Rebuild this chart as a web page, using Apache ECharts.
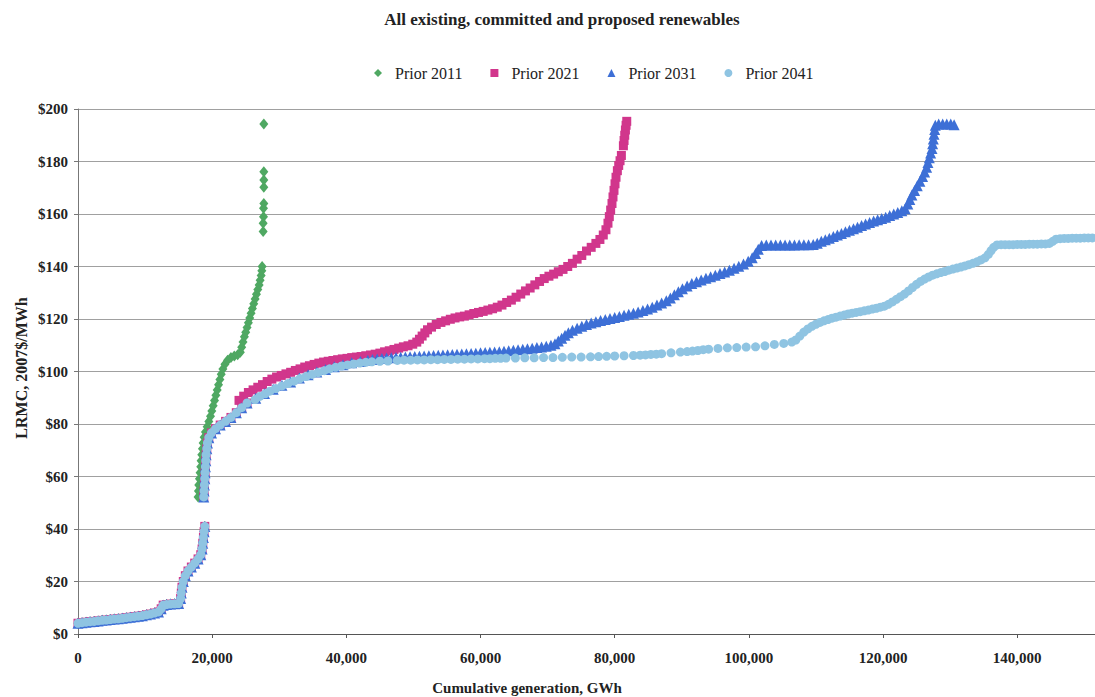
<!DOCTYPE html>
<html>
<head>
<meta charset="utf-8">
<script src="https://cdn.jsdelivr.net/npm/echarts@6/dist/echarts.min.js"></script>
<style>
  html, body { margin: 0; padding: 0; background: #ffffff; }
  #chart { width: 1095px; height: 697px; }
</style>
</head>
<body>
<div id="chart"></div>
<script>
// Supply curves of renewable projects: [cumulative generation (GWh), LRMC (2007$/MWh)]
const seriesNames = ['Prior 2011', 'Prior 2021', 'Prior 2031', 'Prior 2041'];
const chartTitle = 'All existing, committed and proposed renewables';
const xAxisTitle = 'Cumulative generation, GWh';
const yAxisTitle = 'LRMC, 2007$/MWh';

// Cheapest projects, common to every vintage
const lowCurve = [
  [0,4.1],[600,4.3],[1200,4.5],[1800,4.7],[2400,4.8],[3000,5.0],[3600,5.2],[4200,5.3],[4800,5.5],
  [5400,5.7],[6000,5.8],[6600,6.0],[7200,6.2],[7800,6.4],[8400,6.6],[9000,6.8],[9600,7.0],[10200,7.3],
  [10800,7.6],[11400,8.0],[12000,8.4],[12400,9.6],[12700,11.0],[13200,11.2],[13800,11.4],[14400,11.5],
  [15000,11.6],[15300,13.5],[15400,15.6],[15500,17.8],[15700,20.0],[16000,22.2],[16400,24.0],[16900,25.5],
  [17400,27.0],[17900,28.6],[18300,30.2],[18500,32.4],[18600,34.6],[18700,36.8],[18800,39.0],[18900,41.0]
];

// Step from $52 to $88, shared by the 2021, 2031 and 2041 curves
const midCurve = [
  [18750,52.2],[18800,54.5],[18850,56.8],[18900,59.1],[18950,61.4],[19000,63.7],[19050,66.0],[19100,68.3],
  [19200,70.6],[19300,72.8],[19500,74.8],[19900,76.6],[20500,78.2],[21200,79.6],[22000,81.0],[22800,82.5],
  [23600,84.3],[24400,86.2],[25200,88.0]
];

const prior2011Upper = [
  [17900,52.2],[17950,54.5],[18000,56.8],[18100,59.1],[18200,61.4],[18300,63.7],[18350,66.0],[18450,68.3],
  [18550,70.6],[18650,72.8],[18800,75.0],[19000,77.0],[19250,79.0],[19500,81.0],[19750,83.0],[19950,85.0],
  [20150,87.0],[20350,89.0],[20550,91.0],[20750,93.0],[20950,95.0],[21150,97.0],[21350,99.0],[21600,101.0],
  [21900,102.8],[22300,104.3],[22800,105.3],[23300,105.9],[23800,106.4],[24200,107.3],[24400,109.2],
  [24600,111.2],[24800,113.2],[25000,115.0],[25200,116.8],[25400,118.6],[25600,120.4],[25800,122.2],
  [26000,124.0],[26200,125.8],[26400,127.6],[26600,129.4],[26800,131.2],[27000,133.0],[27150,134.8],
  [27300,136.6],[27400,138.4],[27450,140.0],[27600,153.3],[27600,156.5],[27650,159.0],[27650,162.2],
  [27700,164.0],[27700,170.2],[27700,173.0],[27700,176.1],[27700,194.3]
];

const prior2021Upper = [
  [24000,89.0],[24700,90.6],[25400,92.0],[26100,93.0],[26800,94.0],[27500,95.0],[28200,96.2],[28900,97.1],
  [29600,97.9],[30300,98.5],[31000,99.1],[31700,99.7],[32400,100.4],[33100,101.0],[33800,101.7],[34500,102.2],
  [35200,102.7],[35900,103.2],[36600,103.6],[37300,103.9],[38000,104.2],[38700,104.5],[39400,104.8],
  [40100,105.0],[40800,105.3],[41500,105.5],[42200,105.7],[42900,106.0],[43600,106.3],[44300,106.6],
  [45000,107.0],[45700,107.5],[46400,107.9],[47100,108.4],[47800,108.9],[48500,109.4],[49200,109.8],
  [49900,110.4],[50500,111.2],[50900,112.3],[51300,113.5],[51700,114.7],[52100,115.9],[52700,116.9],
  [53400,117.9],[54100,118.7],[54800,119.3],[55500,119.9],[56200,120.4],[56900,120.8],[57600,121.1],
  [58300,121.6],[59000,122.1],[59700,122.5],[60400,122.9],[61100,123.4],[61800,123.9],[62500,124.5],
  [63200,125.3],[63900,126.3],[64600,127.2],[65300,128.3],[66000,129.5],[66700,130.7],[67400,131.8],
  [68100,133.0],[68800,134.3],[69500,135.4],[70200,136.3],[70900,137.1],[71600,138.0],[72300,138.9],
  [73000,140.0],[73700,141.2],[74400,142.8],[75100,144.2],[75800,145.9],[76500,147.3],[77200,148.8],
  [77800,150.3],[78300,152.0],[78700,154.0],[79000,156.5],[79200,159.0],[79400,161.5],[79600,164.0],
  [79750,166.5],[79900,169.0],[80050,171.5],[80200,174.0],[80400,176.5],[80600,178.5],[80800,180.3],
  [81000,182.3],[81300,186.0],[81400,188.0],[81500,190.0],[81600,192.0],[81700,193.8],[81800,195.3]
];

const prior2031Upper = [
  [26500,89.8],[27800,91.6],[29100,93.2],[30400,94.8],[31700,96.0],[33000,97.5],[34300,98.8],[35600,99.8],
  [36900,100.8],[38200,101.8],[39500,102.6],[40800,103.3],[42100,103.8],[43200,104.3],[43900,104.6],
  [44600,104.8],[45300,105.0],[46000,105.1],[46700,105.2],[47400,105.3],[48100,105.4],[48800,105.5],
  [49500,105.6],[50200,105.7],[50900,105.8],[51600,105.9],[52300,106.0],[53000,106.1],[53700,106.2],
  [54400,106.3],[55100,106.4],[55800,106.5],[56500,106.6],[57200,106.7],[57900,106.8],[58600,106.9],
  [59300,107.0],[60000,107.1],[60700,107.2],[61400,107.3],[62100,107.4],[62800,107.5],[63500,107.7],
  [64200,107.9],[64900,108.1],[65600,108.3],[66300,108.5],[67000,108.7],[67700,108.9],[68400,109.1],
  [69100,109.3],[69800,109.6],[70500,110.0],[71100,110.6],[71600,111.6],[72100,112.7],[72600,113.8],
  [73100,114.8],[73700,115.7],[74400,116.5],[75100,117.2],[75800,117.9],[76500,118.5],[77200,119.0],
  [77900,119.4],[78600,119.8],[79300,120.2],[80000,120.6],[80700,121.0],[81400,121.4],[82100,121.8],
  [82800,122.2],[83500,122.7],[84200,123.2],[84900,123.8],[85600,124.5],[86300,125.3],[87000,126.1],
  [87700,127.0],[88300,128.0],[88900,129.2],[89500,130.4],[90100,131.5],[90800,132.6],[91500,133.5],
  [92200,134.2],[92900,134.9],[93600,135.5],[94300,136.1],[95000,136.7],[95700,137.3],[96400,137.9],
  [97100,138.6],[97800,139.3],[98500,140.1],[99200,141.0],[99900,142.0],[100500,143.3],[101000,145.0],
  [101400,146.6],[101900,148.0],[102600,148.2],[103300,148.2],[104000,148.2],[104700,148.2],[105400,148.2],
  [106100,148.2],[106800,148.2],[107500,148.3],[108200,148.3],[108900,148.3],[109600,148.4],[110200,148.9],
  [110800,149.6],[111400,150.2],[112000,150.8],[112600,151.4],[113200,152.0],[113800,152.6],[114400,153.2],
  [115000,153.8],[115600,154.4],[116200,155.0],[116800,155.6],[117400,156.2],[118000,156.8],[118600,157.3],
  [119200,157.8],[119800,158.3],[120400,158.8],[121000,159.4],[121600,160.0],[122200,160.6],[122800,161.2],
  [123300,162.0],[123700,163.8],[124000,165.5],[124300,167.2],[124700,169.0],[125100,170.8],[125500,172.5],
  [125900,174.3],[126200,176.0],[126500,177.8],[126700,179.6],[126900,181.4],[127100,183.2],[127300,185.0],
  [127400,186.8],[127500,188.6],[127600,190.4],[127700,192.2],[127800,193.8],[128300,194.3],[128900,194.3],
  [129500,194.3],[130100,194.3],[130600,194.0]
];

const prior2041Upper = [
  [26400,89.3],[27100,90.5],[27900,91.5],[28600,92.5],[29500,93.5],[30400,94.5],[31300,95.4],[32200,96.3],
  [33100,97.3],[34000,98.1],[34900,98.9],[35800,99.6],[36700,100.3],[37500,101.0],[38400,101.6],[39300,102.1],
  [40200,102.5],[41100,102.9],[42000,103.2],[42900,103.5],[43800,103.7],[45000,103.9],[46200,104.0],
  [47600,104.2],[48600,104.3],[49600,104.3],[50600,104.4],[51600,104.4],[52600,104.5],[53600,104.5],
  [54600,104.6],[55600,104.6],[56600,104.7],[57600,104.7],[58600,104.8],[59600,104.8],[60600,104.9],
  [61400,104.9],[62200,105.0],[63000,105.0],[63800,105.1],[65200,105.1],[66600,105.2],[68000,105.2],
  [69400,105.3],[70800,105.3],[72200,105.4],[73600,105.5],[75000,105.5],[76400,105.6],[77600,105.7],
  [78800,105.8],[80000,105.9],[81400,106.0],[82800,106.1],[83800,106.2],[84600,106.3],[85400,106.5],
  [86200,106.6],[87000,106.8],[88400,107.1],[89800,107.4],[90800,107.6],[91600,107.8],[92400,108.0],
  [93200,108.3],[94000,108.5],[95400,108.8],[96800,109.0],[98200,109.1],[99600,109.3],[101000,109.4],
  [102400,109.8],[103800,110.3],[105200,110.7],[106400,111.2],
  [107000,112.0],[107600,113.5],[108200,115.0],[108800,116.2],[109400,117.2],[110000,118.0],[110600,118.7],
  [111200,119.3],[111800,119.8],[112400,120.3],[113000,120.7],[113600,121.1],[114200,121.5],[114800,121.9],
  [115400,122.2],[116000,122.5],[116600,122.8],[117200,123.1],[117800,123.4],[118400,123.8],[119000,124.1],
  [119600,124.5],[120200,124.9],[120800,125.6],[121400,126.5],[122000,127.5],[122600,128.5],[123200,129.5],
  [123800,130.7],[124400,132.0],[125000,133.2],[125600,134.3],[126200,135.2],[126800,136.0],[127400,136.7],
  [128000,137.2],[128600,137.7],[129200,138.1],[129800,138.6],[130400,139.0],[131000,139.4],[131600,139.8],
  [132200,140.2],[132800,140.7],[133400,141.2],[134000,141.8],[134600,142.5],[135200,143.3],[135700,144.6],
  [136100,146.0],[136500,147.3],[137000,148.2],[137600,148.3],[138200,148.3],[138800,148.3],[139400,148.3],
  [140000,148.4],[140600,148.4],[141200,148.4],[141800,148.5],[142400,148.5],[143000,148.5],[143600,148.6],
  [144200,148.6],[144800,148.8],[145300,149.6],[145800,150.4],[146400,150.6],[147000,150.7],[147600,150.7],
  [148200,150.8],[148800,150.8],[149400,150.8],[150000,150.9],[150600,150.9],[151200,150.9]
];

const seriesColors = ['#4fa862', '#d1368c', '#3d6fd6', '#8fc4e2'];
const seriesSymbols = ['diamond', 'rect', 'triangle', 'circle'];
const seriesSizes = [[9, 11], 9, 11, 9];

const seriesData = [
  lowCurve.concat(prior2011Upper),
  lowCurve.concat(midCurve, prior2021Upper),
  lowCurve.concat(midCurve, prior2031Upper),
  lowCurve.concat(midCurve, prior2041Upper)
];

const serif = '"Liberation Serif", "DejaVu Serif", serif';
const chart = echarts.init(document.getElementById('chart'), null, { renderer: 'svg' });

chart.setOption({
  backgroundColor: '#ffffff',
  animation: false,
  grid: { left: 78, right: 0, top: 109, bottom: 63, containLabel: false },
  legend: {
    data: seriesNames.map((n, i) => ({ name: n, icon: seriesSymbols[i] })),
    left: 369, top: 60,
    itemWidth: 8, itemHeight: 8, itemGap: 28,
    textStyle: { fontFamily: serif, fontSize: 16, color: '#222', padding: [0, 0, 0, 8] }
  },
  xAxis: {
    type: 'value', min: 0, max: 151600, interval: 20000,
    axisLine: { show: true, lineStyle: { color: '#555', width: 1 } },
    axisTick: { show: true, length: 4, lineStyle: { color: '#555' } },
    splitLine: { show: false },
    axisLabel: {
      showMaxLabel: false, margin: 16,
      fontFamily: serif, fontSize: 15, fontWeight: 'bold', color: '#222',
      formatter: v => v.toLocaleString('en-US')
    }
  },
  yAxis: {
    type: 'value', min: 0, max: 200, interval: 20,
    axisLine: { show: true, lineStyle: { color: '#777', width: 1 } },
    axisTick: { show: true, length: 4, lineStyle: { color: '#777' } },
    splitLine: { show: true, lineStyle: { color: '#a0a0a0', width: 1 } },
    axisLabel: {
      margin: 10, fontFamily: serif, fontSize: 15, fontWeight: 'bold', color: '#222',
      formatter: v => '$' + v
    }
  },
  graphic: [
    { type: 'text', x: 562, y: 19, style: { text: chartTitle, font: 'bold 17px ' + serif, fill: '#222', align: 'center', verticalAlign: 'middle' } },
    { type: 'text', x: 527, y: 688, style: { text: xAxisTitle, font: 'bold 15px ' + serif, fill: '#222', align: 'center', verticalAlign: 'middle' } },
    { type: 'text', x: 21, y: 368, rotation: Math.PI / 2, style: { text: yAxisTitle, font: 'bold 16px ' + serif, fill: '#222', align: 'center', verticalAlign: 'middle' } }
  ],
  series: seriesNames.map((name, i) => ({
    name: name,
    type: 'scatter',
    data: seriesData[i],
    symbol: seriesSymbols[i],
    symbolSize: seriesSizes[i],
    itemStyle: { color: seriesColors[i], opacity: 1 },
    emphasis: { disabled: true },
    z: 2 + i
  }))
});
</script>
</body>
</html>
